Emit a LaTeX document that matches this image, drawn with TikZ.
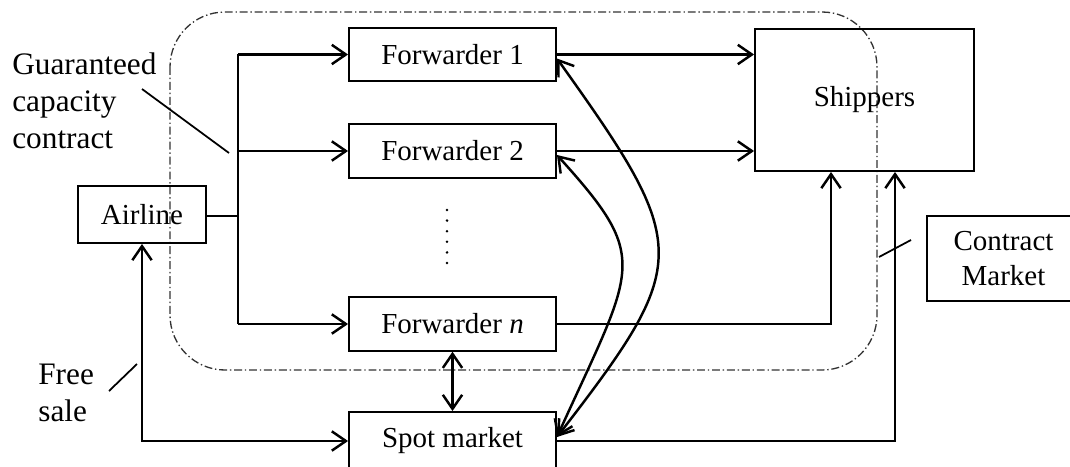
\documentclass[tikz,border=0pt]{standalone}
\usepackage{fontspec}
\setmainfont{Liberation Serif}
\usetikzlibrary{arrows.meta,calc}

\begin{document}
\begin{tikzpicture}[x=0.02cm,y=-0.02cm,
  txt/.style={font=\fontsize{16.5}{19.5}\selectfont},
  box/.style={txt,draw,line width=1.1pt,inner sep=0pt,align=center},
  conn/.style={line width=1.4pt},
  tip/.tip={Straight Barb[length=8pt,width=11pt]},
  arr/.style={conn,-tip},
  darr/.style={conn,tip-tip},
  lead/.style={line width=1pt},
  region/.style={draw=black!80,line width=0.75pt,
    dash pattern=on 4.5pt off 1.6pt on 0.8pt off 1.6pt,rounded corners=1.1cm},
  lbl/.style={inner sep=0pt,align=left,font=\fontsize{17.8}{21}\selectfont}
]
\clip (0,0) rectangle (1070,466);

% contract-market region
\draw[region] (170,12) rectangle (877,370);

% boxes
\node[box,minimum width=2.56cm,minimum height=1.14cm] (al) at (142,214.5) {Airline};
\node[box,minimum width=4.14cm,minimum height=1.07cm] (f1) at (452.5,54.5) {Forwarder 1};
\node[box,minimum width=4.14cm,minimum height=1.07cm] (f2) at (452.5,151) {Forwarder 2};
\node[box,minimum width=4.14cm,minimum height=1.07cm] (fn) at (452.5,324) {Forwarder \textit{n}};
\node[box,minimum width=4.14cm,minimum height=1.16cm] (sp) at (452.5,441) {Spot market};
\node[box,minimum width=4.38cm,minimum height=2.84cm] (sh) at (864.5,100) {Shippers};
\node[box,minimum width=3.06cm,minimum height=1.7cm] (cm) at (1003.5,258.5) {Contract\\Market};

% vertical ellipsis between forwarders
\foreach \y in {210,220.6,231.2,241.8,252.4,263}
  \fill (447,\y) circle[radius=0.8pt];

% labels
\node[lbl,anchor=west] (gc) at (12,101) {Guaranteed\\capacity\\contract};
\node[lbl,anchor=west] (fs) at (38,392.5) {Free\\sale};

% guaranteed capacity contracts from the airline
\coordinate (j) at (238,216);
\draw[conn] (al.east |- j) -- (j);
\draw[conn] (j |- f1.west) -- (j |- fn.west);
\draw[arr] (j |- f1.west) -- (f1.west);
\draw[arr] (j |- f2.west) -- (f2.west);
\draw[arr] (j |- fn.west) -- (fn.west);

% forwarders to shippers
\draw[arr] (f1.east) -- (f1.east -| sh.west);
\draw[arr] (f2.east) -- (f2.east -| sh.west);
\coordinate (c1) at (831,0);
\coordinate (c2) at (895,0);
\draw[arr] (fn.east) -| (c1 |- sh.south);
\draw[arr] (sp.east) -| (c2 |- sh.south);

% spot market links
\draw[darr] (al.south) |- (sp.west);
\draw[darr] (fn.south) -- (sp.north);
\draw[darr] ($(f1.east)+(0,4)$) .. controls +(135,189) and +(135,-175) .. ($(sp.east)+(0,-4)$);
\draw[darr] ($(f2.east)+(0,4)$) .. controls +(95,105) and +(78,-172) .. ($(sp.east)+(0,-4)$);

% leader lines
\coordinate (g1) at (142,89);
\coordinate (g2) at (229,153);
\draw[lead] (g1) -- (g2);
\coordinate (s1) at (109,391);
\coordinate (s2) at (137,364);
\draw[lead] (s1) -- (s2);
\coordinate (m1) at (879,257);
\coordinate (m2) at (911,240);
\draw[lead] (m1) -- (m2);
\end{tikzpicture}
\end{document}
